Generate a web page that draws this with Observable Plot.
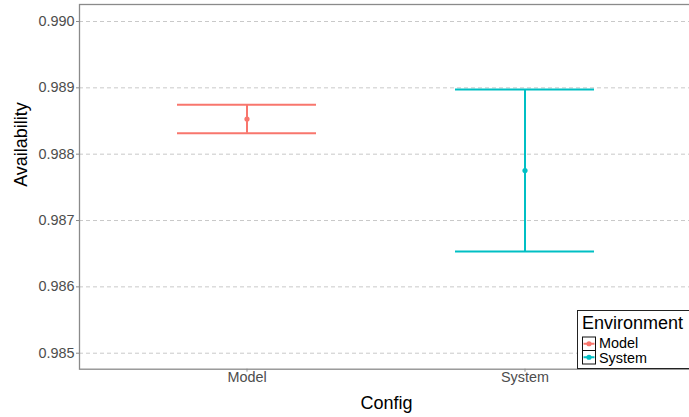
<!DOCTYPE html>
<html>
<head>
<meta charset="utf-8">
<script src="https://cdn.jsdelivr.net/npm/d3@7"></script>
<script src="https://cdn.jsdelivr.net/npm/@observablehq/plot@0.6"></script>
<style>
  body { margin: 0; background: white; }
  #wrap { position: relative; width: 689px; height: 417px; overflow: hidden; }
  #legend { position: absolute; left: 0; top: 0; pointer-events: none; }
</style>
</head>
<body>
<div id="wrap"></div>
<script>
const configs = ["Model", "System"];
const environments = ["Model", "System"];
const means = [0.988529, 0.987754];
const lowers = [0.988316, 0.986533];
const uppers = [0.988744, 0.988975];
const yTicks = [0.985, 0.986, 0.987, 0.988, 0.989, 0.990];
const colors = ["#F8766D", "#00BFC4"];
const xTitle = "Config";
const yTitle = "Availability";
const legendTitle = "Environment";

const data = configs.map((c, i) => ({config: c, env: environments[i], mean: means[i], lower: lowers[i], upper: uppers[i]}));

const FONT = "'Liberation Sans', Arial, Helvetica, sans-serif";

const chart = Plot.plot({
  width: 689,
  height: 417,
  marginLeft: 79,
  marginRight: -4,
  marginTop: 4,
  marginBottom: 48.3,
  style: {fontFamily: FONT, background: "white", overflow: "visible"},
  x: {type: "band", domain: configs, range: [79, 692.4], paddingInner: 0.5, paddingOuter: 0.35},
  y: {domain: [0.984759, 0.990256]},
  color: {domain: environments, range: colors},
  marks: [
    Plot.gridY(yTicks, {stroke: "#c9c9c9", strokeOpacity: 1, strokeWidth: 1, strokeDasharray: "4,3"}),
    Plot.axisY(yTicks, {tickSize: 3, tickPadding: 2, tickFormat: d3.format(".3f"), fontSize: 14.4, fill: "#4d4d4d", stroke: "#8a8a8a", label: null}),
    Plot.axisX({tickSize: 3, tickPadding: 0, fontSize: 14.4, fill: "#4d4d4d", stroke: "#8a8a8a", label: null}),
    Plot.ruleX(data, {x: "config", y1: "lower", y2: "upper", stroke: "env", strokeWidth: 2}),
    Plot.tickY(data, {x: "config", y: "upper", stroke: "env", strokeWidth: 2}),
    Plot.tickY(data, {x: "config", y: "lower", stroke: "env", strokeWidth: 2}),
    Plot.dot(data, {x: "config", y: "mean", fill: "env", r: 2.6}),
    Plot.frame({stroke: "#8a8a8a", strokeWidth: 1.3}),
    Plot.text([yTitle], {frameAnchor: "left", dx: -58, rotate: -90, fontSize: 18, fill: "black"}),
    Plot.text([xTitle], {frameAnchor: "bottom", dy: 40, fontSize: 18, fill: "black"})
  ]
});
document.getElementById("wrap").appendChild(chart);

// Legend overlay
const svg = d3.select("#wrap").append("svg")
  .attr("id", "legend").attr("width", 689).attr("height", 417)
  .style("font-family", FONT);
svg.append("rect").attr("x", 577.5).attr("y", 310.5).attr("width", 130).attr("height", 58)
  .attr("fill", "white").attr("stroke", "#222").attr("stroke-width", 1);
svg.append("text").attr("x", 582).attr("y", 329).attr("font-size", 18).attr("fill", "black").text(legendTitle);
environments.forEach((e, i) => {
  const y0 = 337 + i * 13.5;
  const g = svg.append("g");
  g.append("rect").attr("x", 582.5).attr("y", y0).attr("width", 13).attr("height", 13.5)
    .attr("fill", "white").attr("stroke", "#111").attr("stroke-width", 1);
  g.append("line").attr("x1", 583.5).attr("x2", 594.5).attr("y1", y0 + 6.75).attr("y2", y0 + 6.75)
    .attr("stroke", colors[i]).attr("stroke-width", 2);
  g.append("circle").attr("cx", 589).attr("cy", y0 + 6.75).attr("r", 2.6).attr("fill", colors[i]);
  g.append("text").attr("x", 599).attr("y", 348 + i * 15).attr("font-size", 14.4).attr("fill", "black").text(e);
});
</script>
</body>
</html>
